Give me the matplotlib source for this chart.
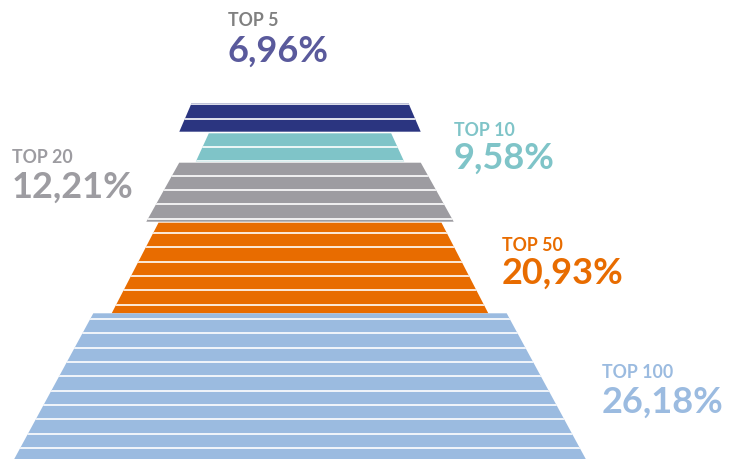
import numpy as np
import matplotlib.pyplot as plt
from matplotlib.patches import Polygon

# Datos
grupos = ['TOP 5', 'TOP 10', 'TOP 20', 'TOP 50', 'TOP 100']
valores = [6.96, 9.58, 12.21, 20.93, 26.18]

# Colores
col_relleno = ['#2b3580', '#7fc4c8', '#9d9ca1', '#e86c00', '#9bbbe0']
col_etiqueta = ['#808080', '#7fc4c8', '#9d9ca1', '#e86c00', '#9bbbe0']
col_valor = ['#5a5a9c', '#7fc4c8', '#9d9ca1', '#e86c00', '#9bbbe0']

# Geometria de la piramide (pixeles, eje y hacia abajo)
centro = 300
arriba = [103.3, 133.3, 162.7, 222.7, 313.3]
abajo = [131.7, 161.7, 221.7, 313.3, 460.0]
semi_arriba = [108.5, 91.2, 120.8, 141.5, 206.7]
semi_abajo = [120.7, 104.2, 153.7, 188.3, 286.3]
linea0, paso = 118.5, 14.326

# Posicion de los textos
txt_x = [228, 454, 12, 502, 602]
txt_base_etq = [26.5, 135.7, 163.3, 251.0, 377.7]
txt_base_val = [62.0, 168.5, 197.5, 284.0, 412.5]

fig = plt.figure(figsize=(7.29, 4.59), dpi=100)
ax = fig.add_axes([0, 0, 1, 1])
ax.set_xlim(0, 729)
ax.set_ylim(459, 0)
ax.axis('off')

lineas = linea0 + paso * np.arange(-2, 30)

for i in range(len(grupos)):
    t, b = arriba[i], abajo[i]
    wt, wb = semi_arriba[i], semi_abajo[i]
    pts = [(centro - wt, t), (centro + wt, t), (centro + wb, b), (centro - wb, b)]
    trap = Polygon(pts, closed=True, facecolor=col_relleno[i], edgecolor='none')
    ax.add_patch(trap)
    for y in lineas:
        if t < y < b:
            ln, = ax.plot([0, 729], [y, y], color='white', lw=1.2, solid_capstyle='butt')
            ln.set_clip_path(trap)

    ax.text(txt_x[i], txt_base_etq[i], grupos[i], color=col_etiqueta[i],
            fontsize=12.8, fontweight='bold', family=['Lato', 'DejaVu Sans'],
            ha='left', va='baseline')
    ax.text(txt_x[i], txt_base_val[i], f'{valores[i]:.2f}%'.replace('.', ','),
            color=col_valor[i], fontsize=26, fontweight='bold',
            family=['Lato', 'DejaVu Sans'], ha='left', va='baseline')

fig.savefig('out.png', dpi=100, facecolor='white')
